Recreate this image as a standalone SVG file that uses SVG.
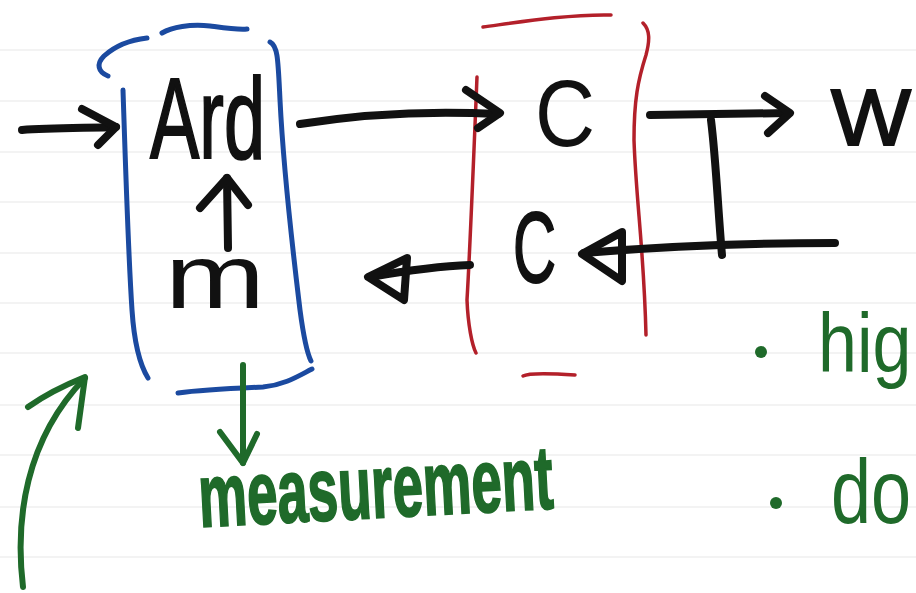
<svg xmlns="http://www.w3.org/2000/svg" width="916" height="593" viewBox="0 0 916 593">
<style>
.rule{stroke:#e8e8e8;stroke-width:1.2;fill:none}
.blue{stroke:#1b4aa0;stroke-width:5;fill:none;stroke-linecap:round;stroke-linejoin:round}
.red{stroke:#b3202a;stroke-width:3.5;fill:none;stroke-linecap:round;stroke-linejoin:round}
.ink{stroke:#111;stroke-width:8;fill:none;stroke-linecap:round;stroke-linejoin:round}
.grn{stroke:#1f6a2a;stroke-width:6;fill:none;stroke-linecap:round;stroke-linejoin:round}
.t{font-family:"Liberation Sans",Arial,sans-serif;fill:#111;stroke:#111;stroke-width:2}
.g{font-family:"Liberation Sans",Arial,sans-serif;fill:#1f6a2a;stroke:#1f6a2a;stroke-width:2}
.gb{font-weight:bold}
</style>
<rect width="916" height="593" fill="#ffffff"/>
<g id="paper">
<path class="rule" d="M0,50H916M0,101H916M0,152H916M0,202H916M0,253H916M0,303H916M0,353H916M0,405H916M0,455H916M0,507H916M0,557H916"/>
</g>
<g id="node-ard">
<path class="blue" d="M108,76 C98,72 96,64 104,56 C115,46 130,40 147,38"/>
<path class="blue" d="M162,33 C172,27 190,24 210,26 C225,28 238,30 247,29"/>
<path class="blue" d="M270,42 C278,46 278,60 280,100 C284,180 294,260 300,310 C304,340 308,355 311,361"/>
<path class="blue" d="M123,90 C125,150 128,250 132,310 C134,340 140,365 148,378"/>
<path class="blue" d="M178,393 C200,390 240,388 263,387 C285,385 300,375 312,369"/>
<text class="t" x="150" y="158" font-size="115" textLength="115" lengthAdjust="spacingAndGlyphs">Ard</text>
<text class="t" x="165" y="308" font-size="90" textLength="100" lengthAdjust="spacingAndGlyphs" style="stroke-width:0">m</text>
</g>
<g id="node-c">
<path class="red" d="M483,27 C520,22 570,14 611,15"/>
<path class="red" d="M477,77 C474,150 470,250 467,300 C468,325 472,345 476,353"/>
<path class="red" d="M643,23 C650,30 650,40 646,55 C638,80 634,100 634,140 C636,200 644,250 646,335"/>
<path class="red" d="M523,376 C530,372 560,374 575,375"/>
<text class="t" x="535" y="146" font-size="95" textLength="60" lengthAdjust="spacingAndGlyphs" style="stroke-width:0">C</text>
<text class="t" x="513" y="282" font-size="100" textLength="43" lengthAdjust="spacingAndGlyphs">C</text>
</g>
<g id="node-w">
<text class="t" x="831" y="145" font-size="80" textLength="80" lengthAdjust="spacingAndGlyphs">W</text>
</g>
<g id="node-measurement">
<text class="g gb" x="200" y="527" font-size="90" textLength="355" lengthAdjust="spacingAndGlyphs" transform="rotate(-3 200 527)">measurement</text>
</g>
<g id="node-notes">
<circle cx="761" cy="352" r="6" fill="#1f6a2a"/>
<text class="g" transform="translate(818,372) scale(1,1.2)" x="0" y="0" font-size="70" style="stroke-width:0">hig</text>
<circle cx="776" cy="503" r="6" fill="#1f6a2a"/>
<text class="g" transform="translate(831,523) scale(1,1.25)" x="0" y="0" font-size="72" style="stroke-width:0">do</text>
</g>
<g id="connectors">
<path class="ink" d="M22,130 C50,128 90,128 116,127"/>
<path class="ink" d="M82,109 L116,127 L98,145"/>
<path class="ink" d="M300,124 C350,116 420,110 498,114"/>
<path class="ink" d="M466,90 L500,113 L478,128"/>
<path class="ink" d="M228,248 L227,178"/>
<path class="ink" d="M200,208 L227,178 L248,205"/>
<path class="ink" d="M650,115 L788,113"/>
<path class="ink" d="M765,96 L790,113 L768,133"/>
<path class="ink" d="M711,120 C716,160 718,210 722,255"/>
<path class="ink" d="M835,243 C760,243 680,245 584,253"/>
<path class="ink" d="M622,232 L582,254 L622,281 Z"/>
<path class="ink" d="M470,265 C440,266 410,270 370,277"/>
<path class="ink" d="M407,258 L368,277 L404,300 Z"/>
<path class="grn" d="M23,587 C15,520 25,440 85,378"/>
<path class="grn" d="M28,407 C45,395 65,385 85,377 L78,428"/>
<path class="grn" d="M243,365 L243,463"/>
<path class="grn" d="M220,432 L243,463 L257,434"/>
</g>
</svg>
